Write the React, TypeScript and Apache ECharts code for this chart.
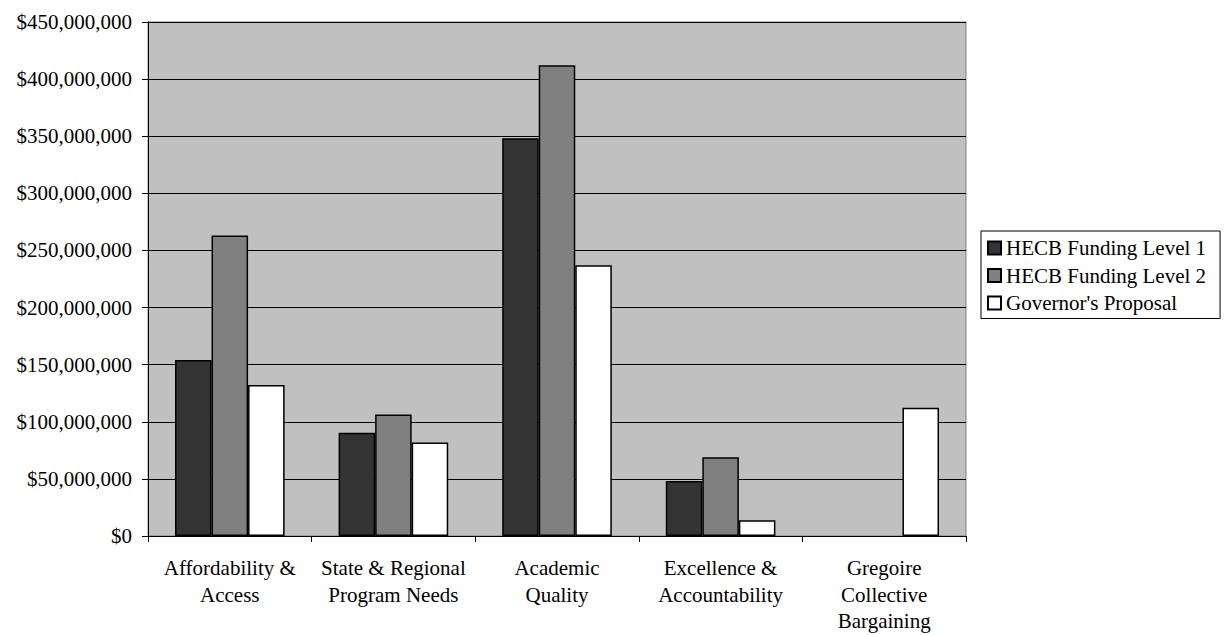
import React, { useEffect, useRef } from "react";
import * as echarts from "echarts";

const categories = [
  "Affordability &\nAccess",
  "State & Regional\nProgram Needs",
  "Academic\nQuality",
  "Excellence &\nAccountability",
  "Gregoire\nCollective\nBargaining",
];
const seriesNames = ["HECB Funding Level 1", "HECB Funding Level 2", "Governor's Proposal"];
const level1 = [154000000, 90300000, 348200000, 48200000, null];
const level2 = [263000000, 106400000, 412200000, 69000000, null];
const governor = [132300000, 81800000, 237000000, 13800000, 112200000];
const seriesColors = ["#333333", "#808080", "#ffffff"];
const yMin = 0;
const yMax = 450000000;
const yInterval = 50000000;

const FONT = "Liberation Serif";
const FS = 21;

export default function App() {
  const ref = useRef<HTMLDivElement>(null);
  useEffect(() => {
    if (!ref.current) return;
    const chart = echarts.init(ref.current, undefined, { renderer: "svg" });
    const data = [level1, level2, governor];
    chart.setOption({
      animation: false,
      backgroundColor: "#ffffff",
      textStyle: { fontFamily: FONT, color: "#000" },
      grid: {
        left: 148,
        right: 258,
        top: 22,
        bottom: 99,
        show: true,
        backgroundColor: "#c0c0c0",
        borderColor: "#808080",
        borderWidth: 1,
        containLabel: false,
        outerBoundsMode: "none",
      },
      legend: {
        orient: "vertical",
        left: 981,
        top: 231,
        icon: "rect",
        itemWidth: 13,
        itemHeight: 13,
        itemGap: 6.5,
        padding: [6.5, 14, 5, 6],
        borderColor: "#000",
        borderWidth: 1,
        backgroundColor: "#fff",
        textStyle: { fontFamily: FONT, fontSize: FS, color: "#000", lineHeight: 21 },
        data: seriesNames,
      },
      xAxis: {
        type: "category",
        data: categories,
        axisLine: { lineStyle: { color: "#000", width: 1 } },
        axisTick: { show: true, length: 6, lineStyle: { color: "#000" } },
        axisLabel: {
          fontFamily: FONT,
          fontSize: FS,
          lineHeight: 26.5,
          color: "#000",
          margin: 19,
          interval: 0,
        },
      },
      yAxis: {
        type: "value",
        min: yMin,
        max: yMax,
        interval: yInterval,
        axisLine: { show: true, lineStyle: { color: "#000", width: 1 } },
        axisTick: { show: true, length: 6, lineStyle: { color: "#000" } },
        splitLine: { show: true, lineStyle: { color: "#000", width: 1 } },
        axisLabel: {
          fontFamily: FONT,
          fontSize: FS,
          color: "#000",
          margin: 16,
          formatter: (v: number) => "$" + v.toLocaleString("en-US"),
        },
      },
      series: seriesNames.map((name, i) => ({
        name,
        type: "bar",
        data: data[i],
        barGap: "0%",
        barCategoryGap: "33%",
        itemStyle: { color: seriesColors[i], borderColor: "#000", borderWidth: 1.5 },
      })),
    });
    return () => chart.dispose();
  }, []);
  return (
    <div
      ref={ref}
      style={{ position: "fixed", left: 0, top: 0, width: 1224, height: 635 }}
    />
  );
}
